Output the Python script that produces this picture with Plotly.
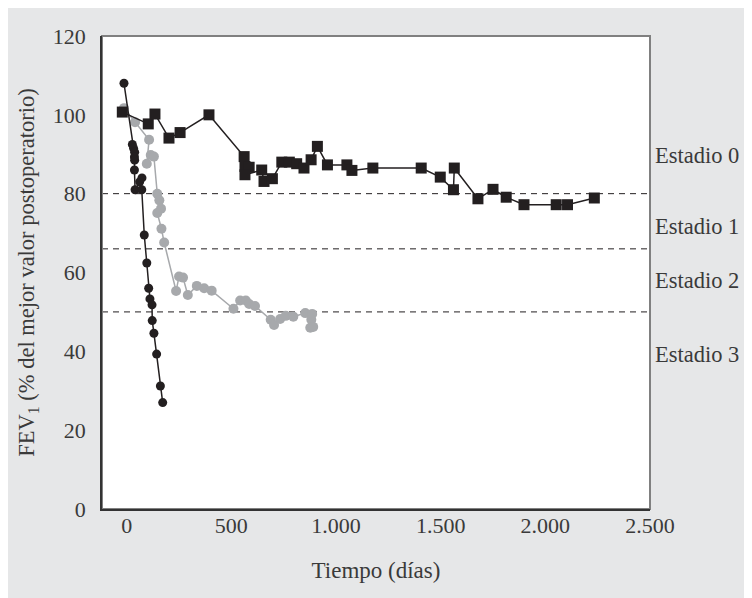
import plotly.graph_objects as go

# Black circles series
bc_x = [-13, 27, 33, 38, 37, 38, 37, 40, 62, 73, 72, 84, 96, 105, 111, 121, 122, 130, 143, 161, 172]
bc_y = [108, 92.5, 91.5, 90.5, 89.3, 88.5, 86, 81, 83, 84, 81, 69.5, 62.4, 56, 53.3, 51.8, 47.8, 44.6, 39.3, 31.2, 27]

# Gray circles series
gc_x = [-13, 40, 107, 96, 115, 130, 146, 156, 164, 146, 166, 179, 236, 250, 269, 292, 335, 370, 406,
        510, 542, 569, 585, 613, 688, 704, 733, 760, 796, 853, 886, 882, 877, 891]
gc_y = [101.7, 98.1, 93.7, 87.6, 89.8, 89.4, 80, 78.3, 76.2, 75.1, 71.1, 67.6, 55.3, 59, 58.7, 54.3, 56.6, 56, 55.4,
        50.8, 52.9, 52.9, 52, 51.5, 48, 46.7, 48.2, 49, 48.8, 49.7, 49.5, 48, 46, 46.2]

# Black squares series
sq_x = [-21, 103, 135, 202, 255, 393, 561, 565, 585, 565, 645, 656, 696, 741, 777, 812, 847, 881, 911,
        959, 1052, 1076, 1176, 1407, 1498, 1561, 1565, 1678, 1750, 1813, 1898, 2052, 2106, 2234]
sq_y = [100.7, 97.7, 100.2, 94.1, 95.5, 100, 89.4, 86.9, 86.7, 84.8, 86, 83.1, 83.8, 88, 88, 87.6, 86.5, 88.6, 92,
        87.3, 87.3, 85.9, 86.5, 86.5, 84.2, 81, 86.5, 78.7, 81.1, 79.1, 77.2, 77.2, 77.2, 78.9]

stage_limits = [80, 66, 50]
stage_labels = ["Estadio 0", "Estadio 1", "Estadio 2", "Estadio 3"]
stage_label_y = [89.8, 71.6, 57.9, 39.3]

x_ticks = [0, 500, 1000, 1500, 2000, 2500]
y_ticks = [0, 20, 40, 60, 80, 100, 120]

BLACK = "#231f20"
GRAY = "#a7a9ac"
BG = "#e6e7e8"
FONT = "Liberation Serif"
TXT = "#3a3a3a"

fig = go.Figure()
fig.add_trace(go.Scatter(x=gc_x, y=gc_y, mode="lines+markers",
                         line=dict(color=GRAY, width=1.5),
                         marker=dict(color=GRAY, size=10, symbol="circle")))
fig.add_trace(go.Scatter(x=sq_x, y=sq_y, mode="lines+markers",
                         line=dict(color=BLACK, width=1.5),
                         marker=dict(color=BLACK, size=11, symbol="square")))
fig.add_trace(go.Scatter(x=bc_x, y=bc_y, mode="lines+markers",
                         line=dict(color=BLACK, width=1.5),
                         marker=dict(color=BLACK, size=9, symbol="circle")))

shapes = []
for v in stage_limits:
    shapes.append(dict(type="line", xref="paper", yref="y", x0=0, x1=1, y0=v, y1=v,
                       line=dict(color=BLACK, width=1, dash="6px,5px"), layer="below"))
# plot frame (top/right in gray)
shapes.append(dict(type="rect", xref="paper", yref="paper", x0=0, x1=1, y0=0, y1=1,
                   line=dict(color="#808080", width=2), layer="below"))

annotations = []
for lab, yy in zip(stage_labels, stage_label_y):
    annotations.append(dict(text=lab, xref="paper", yref="y", x=1.005, y=yy,
                            xanchor="left", yanchor="middle", showarrow=False,
                            font=dict(family=FONT, size=22.5, color=TXT)))

fig.update_layout(
    width=744, height=590,
    margin=dict(l=94, r=102, t=28, b=89),
    paper_bgcolor=BG, plot_bgcolor="white",
    showlegend=False,
    separators=",.",
    font=dict(family=FONT, size=22, color=TXT),
    shapes=shapes, annotations=annotations,
    xaxis=dict(range=[-118, 2500], tickvals=x_ticks, tickformat=",d",
               showgrid=False, zeroline=False, showline=True, linecolor="#333333", linewidth=1.5,
               ticks="", ticklabelstandoff=-4, tickfont=dict(family=FONT, size=22, color=TXT),
               title=dict(text="Tiempo (días)", standoff=25, font=dict(family=FONT, size=23, color=TXT))),
    yaxis=dict(range=[0, 120], tickvals=y_ticks,
               showgrid=False, zeroline=False, showline=True, linecolor="#333333", linewidth=1.5,
               ticks="", ticklabelstandoff=10, tickfont=dict(family=FONT, size=22, color=TXT),
               title=dict(text="FEV<sub>1</sub> (% del mejor valor postoperatorio)", standoff=12,
                          font=dict(family=FONT, size=22.5, color=TXT))),
)

fig.write_html("out.html")
